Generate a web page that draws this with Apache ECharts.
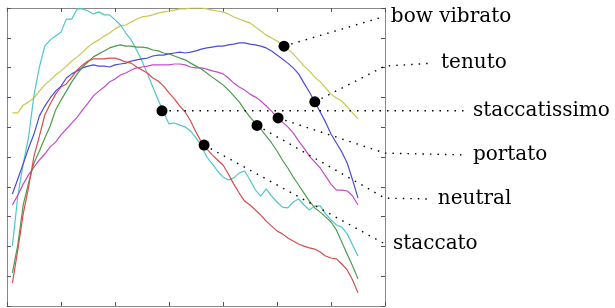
<!DOCTYPE html>
<html>
<head>
<meta charset="utf-8">
<script src="https://cdn.jsdelivr.net/npm/echarts@6/dist/echarts.min.js"></script>
<style>
  html, body { margin: 0; padding: 0; background: #fff; }
  #main { width: 615px; height: 308px; }
</style>
</head>
<body>
<div id="main"></div>
<script>
// sample index 1..65 along the x axis
var steps = []
for (var i = 1; i <= 65; i++) steps.push(i)

var bowVibrato = [6.48, 6.48, 6.74, 6.85, 6.98, 7.21, 7.42, 7.58, 7.75, 7.89, 8.05, 8.22, 8.36, 8.52, 8.69, 8.83,
  8.93, 9.06, 9.16, 9.30, 9.40, 9.43, 9.53, 9.63, 9.70, 9.73, 9.77, 9.83, 9.87, 9.90, 9.93, 9.97, 9.97, 10.0, 10.0,
  10.0, 9.97, 9.93, 9.90, 9.87, 9.80, 9.70, 9.63, 9.56, 9.50, 9.36, 9.23, 9.09, 8.99, 8.89, 8.76, 8.62, 8.46, 8.26,
  8.05, 7.89, 7.68, 7.52, 7.32, 7.11, 6.98, 6.88, 6.68, 6.48, 6.28]
var staccatissimo = [2.01, 3.69, 4.77, 5.67, 7.08, 8.02, 8.72, 8.93, 9.06, 9.19, 9.63, 9.63, 9.97, 9.97, 9.90, 9.80,
  9.87, 9.77, 9.77, 9.60, 9.43, 9.16, 8.93, 8.59, 8.22, 7.79, 7.35, 6.91, 6.51, 6.11, 6.14, 6.07, 6.01, 5.87, 5.64,
  5.37, 5.00, 4.77, 4.53, 4.33, 4.23, 4.30, 4.46, 4.53, 4.23, 3.89, 3.69, 3.93, 3.69, 3.49, 3.32, 3.29, 3.49, 3.59,
  3.39, 3.22, 3.36, 3.36, 3.09, 2.89, 2.72, 2.65, 2.42, 2.05, 1.68]
var staccato = [0.77, 1.88, 3.09, 3.99, 5.03, 5.70, 6.41, 6.78, 7.11, 7.35, 7.45, 7.68, 7.92, 8.09, 8.22, 8.29,
  8.29, 8.29, 8.32, 8.32, 8.26, 8.19, 8.15, 8.02, 7.92, 7.82, 7.65, 7.55, 7.38, 7.15, 6.95, 6.71, 6.51, 6.21, 5.84,
  5.50, 5.27, 5.07, 4.90, 4.73, 4.43, 4.09, 3.79, 3.52, 3.39, 3.22, 3.05, 2.85, 2.68, 2.52, 2.42, 2.28, 2.18, 2.08,
  2.01, 1.95, 1.91, 1.81, 1.68, 1.61, 1.58, 1.41, 1.21, 0.87, 0.44]
var neutral = [1.11, 2.05, 3.39, 4.13, 4.80, 5.20, 5.64, 6.04, 6.58, 6.91, 7.21, 7.52, 7.79, 8.02, 8.19, 8.36,
  8.46, 8.56, 8.66, 8.72, 8.76, 8.72, 8.72, 8.69, 8.69, 8.66, 8.59, 8.56, 8.49, 8.46, 8.39, 8.32, 8.26, 8.15, 8.05,
  7.95, 7.82, 7.68, 7.55, 7.42, 7.25, 7.05, 6.85, 6.58, 6.34, 6.14, 5.94, 5.70, 5.47, 5.20, 4.90, 4.63, 4.33, 4.06,
  3.79, 3.52, 3.29, 3.15, 2.99, 2.82, 2.55, 2.15, 1.74, 1.34, 0.91]
var tenuto = [3.76, 4.26, 4.77, 5.30, 5.77, 6.38, 6.71, 6.98, 7.21, 7.38, 7.65, 7.79, 7.89, 7.99, 8.05, 8.09,
  8.05, 8.05, 8.02, 8.09, 8.12, 8.15, 8.22, 8.26, 8.29, 8.32, 8.39, 8.42, 8.42, 8.46, 8.49, 8.52, 8.49, 8.52, 8.56,
  8.62, 8.66, 8.69, 8.72, 8.72, 8.76, 8.79, 8.83, 8.83, 8.79, 8.76, 8.72, 8.66, 8.56, 8.42, 8.29, 8.15, 7.99, 7.79,
  7.48, 7.18, 6.85, 6.51, 6.17, 5.77, 5.47, 5.17, 4.80, 4.23, 3.62]
var portato = [3.39, 3.72, 4.09, 4.40, 4.66, 4.90, 5.10, 5.34, 5.50, 5.74, 5.94, 6.14, 6.34, 6.58, 6.81, 7.05,
  7.21, 7.35, 7.52, 7.62, 7.75, 7.82, 7.92, 7.99, 8.02, 8.05, 8.09, 8.09, 8.09, 8.09, 8.12, 8.12, 8.09, 8.02, 7.99,
  7.99, 7.95, 7.89, 7.85, 7.79, 7.65, 7.48, 7.35, 7.25, 7.11, 7.01, 6.88, 6.71, 6.54, 6.34, 6.17, 6.01, 5.81, 5.54,
  5.30, 5.03, 4.83, 4.63, 4.36, 4.09, 3.89, 3.89, 3.86, 3.69, 3.39]

// annotations: marked point, then the bends of the dotted leader up to the label
var noteNames = ['bow vibrato', 'tenuto', 'staccatissimo', 'portato', 'neutral', 'staccato']
var noteDots = [[51.3, 8.72], [57.0, 6.85], [28.7, 6.55], [50.2, 6.31], [46.3, 6.06], [36.5, 5.40]]
var notePaths = [
  [[69.6, 9.70]],
  [[70.0, 8.05], [78.9, 8.15]],
  [[84.8, 6.55]],
  [[70.0, 5.13], [84.8, 5.07]],
  [[70.0, 3.62], [78.3, 3.59]],
  [[70.0, 2.08]]
]

var curves = [
  { name: 'bow vibrato', ys: bowVibrato, color: '#c8c84c' },
  { name: 'staccatissimo', ys: staccatissimo, color: '#4cc8c8' },
  { name: 'tenuto', ys: tenuto, color: '#4c4cd8' },
  { name: 'portato', ys: portato, color: '#c44cc8' },
  { name: 'neutral', ys: neutral, color: '#4c9c4c' },
  { name: 'staccato', ys: staccato, color: '#d84c4c' }
]

var chart = echarts.init(document.getElementById('main'))

var series = []
curves.forEach(function (c) {
  series.push({
    name: c.name,
    type: 'line',
    data: c.ys.map(function (y, i) { return [steps[i], y] }),
    symbol: 'none',
    lineStyle: { color: c.color, width: 1.2 },
    z: 2
  })
})

// the notes live on a second, wider grid with the same scale, so leaders can run past the box
noteNames.forEach(function (n, k) {
  series.push({
    name: n + ' note',
    type: 'line',
    xAxisIndex: 2,
    yAxisIndex: 2,
    symbol: 'none',
    data: [noteDots[k]].concat(notePaths[k]),
    lineStyle: { color: '#000', width: 1.4, type: [1.5, 6] },
    endLabel: {
      show: true,
      formatter: n,
      distance: 8,
      color: '#000',
      fontFamily: 'DejaVu Serif',
      fontSize: 20
    },
    z: 3
  })
})

series.push({
  type: 'scatter',
  xAxisIndex: 2,
  yAxisIndex: 2,
  data: noteDots,
  symbolSize: 11,
  itemStyle: { color: '#000', opacity: 1 },
  z: 4
})

var axisLine = { show: true, onZero: false, lineStyle: { color: '#888', width: 1 } }
var axisTick = { show: true, inside: true, length: 4, lineStyle: { color: '#555' } }
var hidden = { show: false }

var option = {
  animation: false,
  backgroundColor: '#fff',
  grid: [
    { left: 7, right: 230, top: 8, bottom: 2 },
    { left: 7, right: 0, top: 8, bottom: 2 }
  ],
  xAxis: [
    { type: 'value', min: 0, max: 70, interval: 10, position: 'bottom',
      axisLine: axisLine, axisTick: axisTick, axisLabel: hidden, splitLine: hidden },
    { type: 'value', min: 0, max: 70, interval: 10, position: 'top',
      axisLine: axisLine, axisTick: axisTick, axisLabel: hidden, splitLine: hidden },
    { type: 'value', gridIndex: 1, min: 0, max: 608 / 5.4, show: false }
  ],
  yAxis: [
    { type: 'value', min: 0, max: 10, interval: 1, position: 'left',
      axisLine: axisLine, axisTick: axisTick, axisLabel: hidden, splitLine: hidden },
    { type: 'value', min: 0, max: 10, interval: 1, position: 'right',
      axisLine: axisLine, axisTick: axisTick, axisLabel: hidden, splitLine: hidden },
    { type: 'value', gridIndex: 1, min: 0, max: 10, show: false }
  ],
  series: series
}

chart.setOption(option)
</script>
</body>
</html>
